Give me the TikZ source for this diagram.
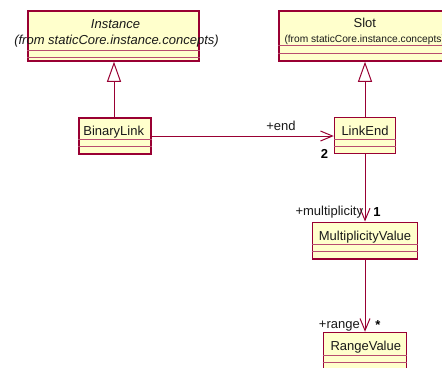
\documentclass[tikz,border=0pt]{standalone}
\usepackage{fontspec}
\setmainfont{Liberation Sans}
\usetikzlibrary{arrows.meta}
\definecolor{umlred}{HTML}{990033}
\definecolor{umlfill}{HTML}{FFFFCC}
\tikzset{
  classbox/.style={draw=umlred, fill=umlfill, line width=1.5bp, rectangle, inner sep=0pt},
  cline/.style={draw=umlred!70, line width=1bp},
  txt/.style={inner sep=0pt, font=\fontsize{13bp}{15bp}\selectfont, text=black!90},
  small/.style={inner sep=0pt, font=\fontsize{10.2bp}{12bp}\selectfont, text=black!90},
  mult/.style={inner sep=0pt, font=\fontsize{13bp}{15bp}\selectfont\bfseries, text=black},
  assoc/.style={draw=umlred, line width=1bp, -{Straight Barb[length=12bp,width=10bp,line width=1bp]}},
  gen/.style={draw=umlred, line width=1bp, -{Triangle[open,length=20bp,width=14bp,fill=white,line width=1bp]}}
}
\begin{document}
\begin{tikzpicture}[x=1bp,y=-1bp]
\useasboundingbox (0,0) rectangle (442,367);
\clip (0,0) rectangle (442,367);
\fill[white] (0,0) rectangle (442,367);
% boxes
\node[classbox, minimum width=171bp, minimum height=50bp] (inst) at (113.5,36) {};
\node[classbox, minimum width=173.4bp, minimum height=50bp] (slot) at (365.7,36) {};
\node[classbox, minimum width=72bp, minimum height=36bp] (bl) at (115,136) {};
\node[classbox, minimum width=61bp, minimum height=36bp] (le) at (365,135.5) {};
\node[classbox, minimum width=105bp, minimum height=36.5bp] (mv) at (364.8,240.5) {};
\node[classbox, minimum width=83.4bp, minimum height=50bp] (rv) at (365,357.5) {};
% compartments
\draw[cline] (inst.west |- 0,50) -- (inst.east |- 0,50);
\draw[cline] (inst.west |- 0,57.5) -- (inst.east |- 0,57.5);
\draw[cline] (slot.west |- 0,45.7) -- (slot.east |- 0,45.7);
\draw[cline] (slot.west |- 0,53.3) -- (slot.east |- 0,53.3);
\draw[cline] (bl.west |- 0,139) -- (bl.east |- 0,139);
\draw[cline] (bl.west |- 0,146) -- (bl.east |- 0,146);
\draw[cline] (le.west |- 0,139) -- (le.east |- 0,139);
\draw[cline] (le.west |- 0,146) -- (le.east |- 0,146);
\draw[cline] (mv.west |- 0,244.3) -- (mv.east |- 0,244.3);
\draw[cline] (mv.west |- 0,251.3) -- (mv.east |- 0,251.3);
\draw[cline] (rv.west |- 0,355.3) -- (rv.east |- 0,355.3);
\draw[cline] (rv.west |- 0,362.3) -- (rv.east |- 0,362.3);
% texts
\node[txt, anchor=base] (instname) at (115.5,28.3) {\itshape Instance};
\node[txt, anchor=base] (instfrom) at (116.5,44.5) {\itshape (from staticCore.instance.concepts)};
\node[txt, anchor=base] (slotname) at (364.8,27.3) {Slot};
\node[small, anchor=base west] (slotfrom) at (284.3,42) {(from staticCore.instance.concepts)};
\node[txt, anchor=base] (blname) at (113.7,135) {BinaryLink};
\node[txt, anchor=base] (lename) at (365,135) {LinkEnd};
\node[txt, anchor=base] (mvname) at (365,240) {MultiplicityValue};
\node[txt, anchor=base] (rvname) at (365.8,350) {RangeValue};
% connectors
\draw[gen] (bl.north -| 114,0) -- (inst.south -| 114,0);
\draw[gen] (le.north) -- (le.north |- slot.south);
\draw[assoc] (bl.east) -- (bl.east -| le.west);
\draw[assoc] (le.south) -- (le.south |- mv.north);
\draw[assoc] (mv.south -| rv.north) -- (rv.north);
% labels
\node[txt, anchor=base] (endlbl) at (281,130.7) {+end};
\node[mult, anchor=base] (endm) at (324.5,158.3) {2};
\node[txt, anchor=base east] (mvlbl) at (363.3,215) {+multiplicity};
\node[mult, anchor=base] (mvm) at (377,216.5) {1};
\node[txt, anchor=base east] (rvlbl) at (360,328.3) {+range};
\node[mult, anchor=base] (rvm) at (378,329) {*};
\end{tikzpicture}
\end{document}
